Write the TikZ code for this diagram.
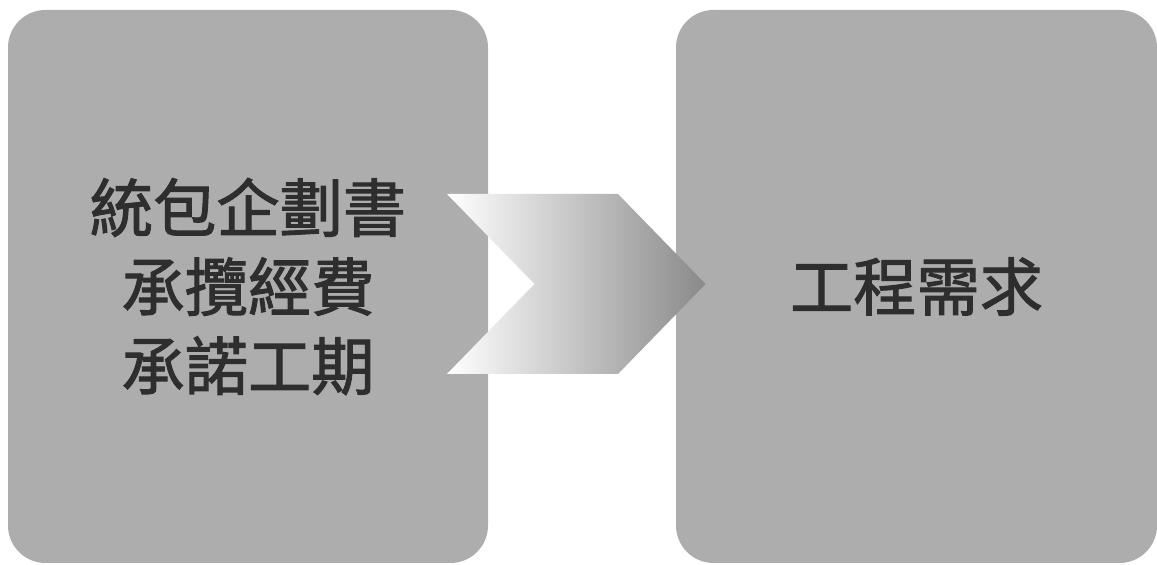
\documentclass[tikz,border=0pt]{standalone}
\usepackage{fontspec}
\usepackage{tikz}
\usetikzlibrary{calc}
\newfontfamily\cjkfont{Noto Sans CJK TC}[BoldFont={Noto Sans CJK TC}, BoldFeatures={FakeBold=1.6}]

\begin{document}
\begin{tikzpicture}[
		panel/.style={fill=black!32, rounded corners=0.75cm, inner sep=0pt,
			minimum width=9.6cm, minimum height=11.06cm, text=black!82, align=center,
			font={\cjkfont\bfseries\fontsize{36}{45}\selectfont}}
	]
		%%%%% START %%%%%
		
		\useasboundingbox (0, 0) rectangle (23.14, 11.3);
		
		\node[panel] (plan) at (4.96, 5.57) {統包企劃書\\承攬經費\\承諾工期};
		\node[panel, minimum width=9.62cm] (demand) at (18.33, 5.57) {工程需求};
		
		\shade[left color=white, right color=black!46, shading angle=90]
			(8.94, 7.42) -- (12.36, 7.42) -- (14.11, 5.62) -- (12.36, 3.82)
			-- (8.94, 3.82) -- (10.69, 5.62) -- cycle;
		
		%%%%% END %%%%%
	\end{tikzpicture}
\end{document}
